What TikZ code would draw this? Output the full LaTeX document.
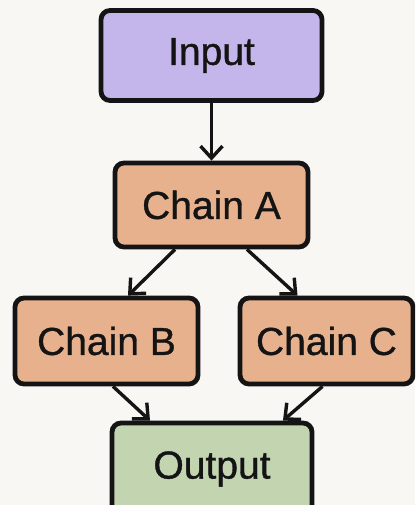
\documentclass[tikz,border=0pt]{standalone}
\usepackage{fontspec}
\setmainfont{Liberation Sans}[BoldFeatures={FakeBold=0.9}, BoldFont=Liberation Sans]
\usetikzlibrary{arrows.meta,calc}
\definecolor{bgcol}{HTML}{F8F7F3}
\definecolor{incol}{HTML}{C4B5EA}
\definecolor{chaincol}{HTML}{E8B18E}
\definecolor{outcol}{HTML}{C3D4B1}
\definecolor{inkcol}{HTML}{141414}
\tikzset{
  box/.style={draw=inkcol, line width=4.8pt, rounded corners=9pt, inner sep=0pt,
    font=\fontsize{39}{41}\selectfont\bfseries, text=inkcol},
  link/.style={draw=inkcol, line width=3.4pt,
    -{Straight Barb[length=12pt,width=22pt,line width=3.4pt]}}
}
\begin{document}
\begin{tikzpicture}[x=1pt,y=-1pt]
  \fill[bgcol] (0,0) rectangle (415,505);
  \useasboundingbox (0,0) rectangle (415,505);
  \begin{scope}
    \clip (0,0) rectangle (415,505);
    \node[box, fill=incol, minimum width=221pt, minimum height=90pt] (in) at (211.5,55.5) {Input};
    \node[box, fill=chaincol, minimum width=193pt, minimum height=84pt] (a) at (211.5,205) {Chain A};
    \node[box, fill=chaincol, minimum width=183pt, minimum height=86pt] (b) at (106.5,341) {Chain B};
    \node[box, fill=chaincol, minimum width=173pt, minimum height=86pt] (c) at (326.5,341) {Chain C};
    \node[box, fill=outcol, minimum width=200pt, minimum height=92pt] (out) at (212,469) {Output};
    \draw[link] (in.south) -- (a.north);
    \draw[link] ($(a.south)+(-36.5,0)$) -- ($(b.north)+(21.5,0)$);
    \draw[link] ($(a.south)+(35.5,0)$) -- ($(c.north)+(-29,0)$);
    \draw[link] ($(b.south)+(6.5,0)$) -- ($(out.north)+(-62,0)$);
    \draw[link] ($(c.south)+(-4,0)$) -- ($(out.north)+(71,0)$);
  \end{scope}
\end{tikzpicture}
\end{document}
